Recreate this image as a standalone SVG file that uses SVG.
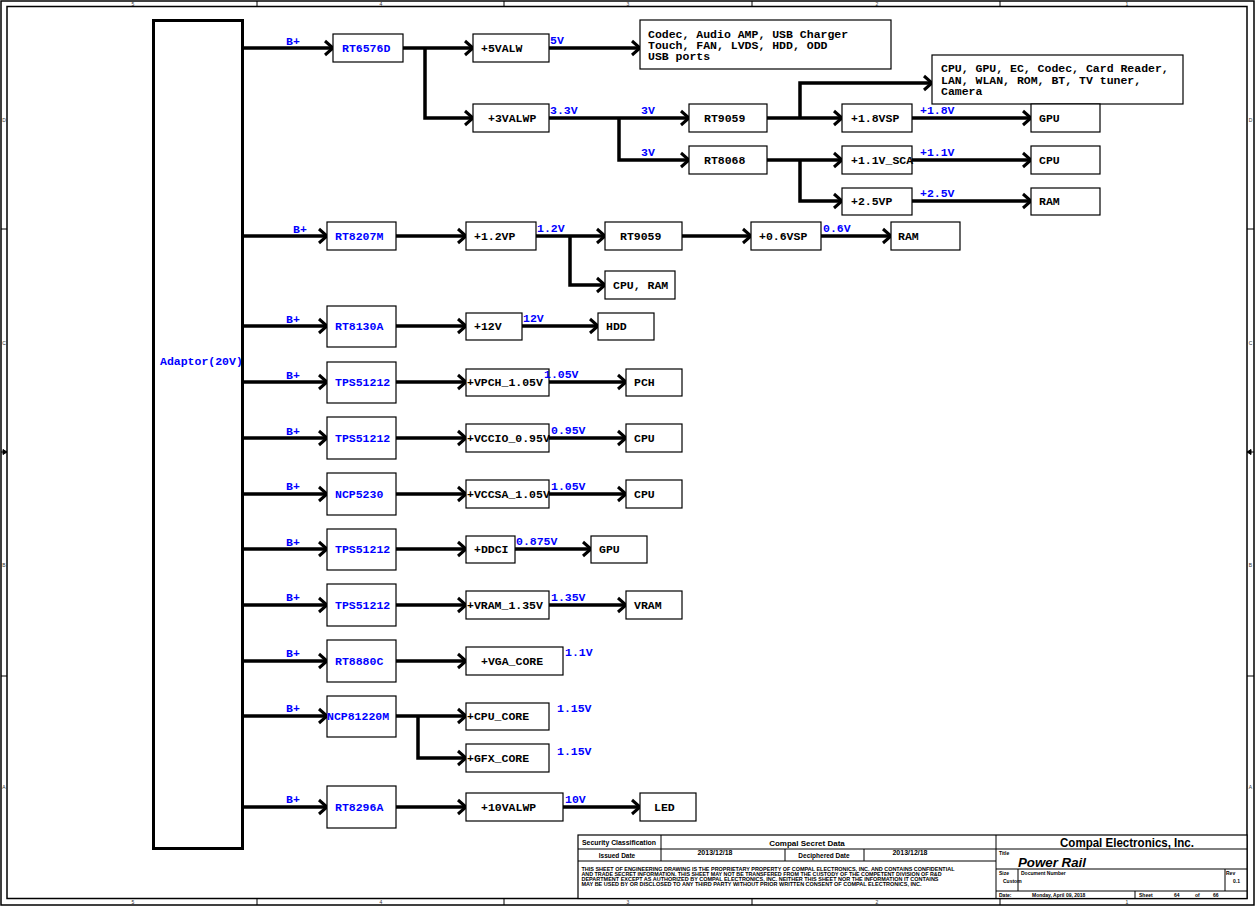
<svg xmlns="http://www.w3.org/2000/svg" width="1259" height="908" viewBox="0 0 1259 908">
<style>
.bx{fill:#fff;stroke:#000;stroke-width:1.2}
.w{stroke:#000;stroke-width:3.5;fill:none}
.wa{stroke:#000;stroke-width:3.5;fill:none;marker-end:url(#ah)}
.t{font-family:"Liberation Mono","Courier New",monospace;font-weight:bold;font-size:11.5px}
.b{fill:#0000ff}
.k{fill:#000}
.fr{fill:none;stroke:#000;stroke-width:1.5}
.tl{stroke:#000;stroke-width:1;fill:none}
.s{font-family:"Liberation Sans",Arial,sans-serif;font-weight:bold;fill:#000}
.z{font-family:"Liberation Sans",Arial,sans-serif;font-size:5px;fill:#333;text-anchor:middle}
</style>
<defs>
<marker id="ah" markerUnits="userSpaceOnUse" markerWidth="12" markerHeight="18" refX="9" refY="8" orient="auto" viewBox="0 0 12 16">
<path d="M1,1 L9,8 L1,15" fill="none" stroke="#000" stroke-width="3"/>
</marker>
</defs>
<rect width="1259" height="908" fill="#fff"/>
<g id="frame">
<rect class="fr" x="1" y="1" width="1253" height="904"/>
<rect class="fr" x="7" y="6.5" width="1240" height="892" stroke-width="2"/>
<path class="tl" d="M257,1V6.5M504,1V6.5M752,1V6.5M1000,1V6.5M257,899V905M504,899V905M752,899V905M1000,899V905M1,229H7M1,676H7M1247,229H1254M1247,676H1254"/>
<text class="z" x="133" y="5.5">5</text><text class="z" x="381" y="5.5">4</text><text class="z" x="628" y="5.5">3</text><text class="z" x="877" y="5.5">2</text><text class="z" x="1127" y="5.5">1</text>
<text class="z" x="133" y="904">5</text><text class="z" x="381" y="904">4</text><text class="z" x="628" y="904">3</text><text class="z" x="877" y="904">2</text><text class="z" x="1127" y="904">1</text>
<text class="z" x="4" y="122">D</text><text class="z" x="4" y="345">C</text><text class="z" x="4" y="567">B</text><text class="z" x="4" y="789">A</text>
<text class="z" x="1250.5" y="122">D</text><text class="z" x="1250.5" y="345">C</text><text class="z" x="1250.5" y="567">B</text><text class="z" x="1250.5" y="789">A</text>
<path d="M1,452H7M3,449.5L7,452L3,454.5Z" stroke="#000" stroke-width="1"/>
<path d="M1247,452H1254M1251,449.5L1247,452L1251,454.5Z" stroke="#000" stroke-width="1"/>
</g>
<g id="connectors">
<path class="wa" d="M243,48H333"/>
<path class="wa" d="M403,48H473"/>
<path class="wa" d="M425,48V118H473"/>
<path class="wa" d="M549,48H640"/>
<path class="wa" d="M549,118H689"/>
<path class="wa" d="M619,118V160H689"/>
<path class="wa" d="M767,118H842"/>
<path class="wa" d="M800,118V83H932"/>
<path class="wa" d="M912,118H1031"/>
<path class="wa" d="M767,160H842"/>
<path class="wa" d="M800,160V201H842"/>
<path class="wa" d="M912,160H1031"/>
<path class="wa" d="M912,201H1031"/>
<path class="wa" d="M243,236H327"/>
<path class="wa" d="M396,236H466"/>
<path class="wa" d="M536,236H605"/>
<path class="wa" d="M570,236V285H605"/>
<path class="wa" d="M682,236H751"/>
<path class="wa" d="M821,236H891"/>
<path class="wa" d="M243,326H327"/>
<path class="wa" d="M396,326H466"/>
<path class="wa" d="M522,326H598"/>
<path class="wa" d="M243,382H327"/>
<path class="wa" d="M396,382H466"/>
<path class="wa" d="M549,382H626"/>
<path class="wa" d="M243,438H327"/>
<path class="wa" d="M396,438H466"/>
<path class="wa" d="M549,438H626"/>
<path class="wa" d="M243,494H327"/>
<path class="wa" d="M396,494H466"/>
<path class="wa" d="M549,494H626"/>
<path class="wa" d="M243,549H327"/>
<path class="wa" d="M396,549H466"/>
<path class="wa" d="M515,549H591"/>
<path class="wa" d="M243,605H327"/>
<path class="wa" d="M396,605H466"/>
<path class="wa" d="M549,605H626"/>
<path class="wa" d="M243,661H327"/>
<path class="wa" d="M396,661H466"/>
<path class="wa" d="M243,716H327"/>
<path class="wa" d="M396,716H466"/>
<path class="wa" d="M418,716V758H466"/>
<path class="wa" d="M243,807H327"/>
<path class="wa" d="M396,807H466"/>
<path class="wa" d="M563,807H640"/>
</g>
<g id="adaptor"><rect x="153.5" y="20.5" width="89" height="828" fill="#fff" stroke="#000" stroke-width="3"/><text class="t b" x="160" y="365">Adaptor(20V)</text></g>
<g id="rt6576d"><rect class="bx" x="333" y="34" width="70" height="28"/><text class="t b" x="342" y="52">RT6576D</text></g>
<g id="p5valw"><rect class="bx" x="473" y="34" width="76" height="28"/><text class="t k" x="481" y="52">+5VALW</text></g>
<g id="p3valwp"><rect class="bx" x="473" y="104" width="76" height="28"/><text class="t k" x="488" y="122">+3VALWP</text></g>
<g id="codec"><rect class="bx" x="640" y="20" width="251" height="49"/><text class="t k" x="648" y="38">Codec, Audio AMP, USB Charger</text><text class="t k" x="648" y="49">Touch, FAN, LVDS, HDD, ODD</text><text class="t k" x="648" y="60">USB ports</text></g>
<g id="rt9059a"><rect class="bx" x="689" y="104" width="78" height="28"/><text class="t k" x="704" y="122">RT9059</text></g>
<g id="rt8068"><rect class="bx" x="689" y="146" width="78" height="28"/><text class="t k" x="704" y="164">RT8068</text></g>
<g id="cpugpu"><rect class="bx" x="932" y="55" width="251" height="49"/><text class="t k" x="941" y="72">CPU, GPU, EC, Codec, Card Reader,</text><text class="t k" x="941" y="83.5">LAN, WLAN, ROM, BT,  TV tuner,</text><text class="t k" x="941" y="95">Camera</text></g>
<g id="p18vsp"><rect class="bx" x="842" y="104" width="70" height="28"/><text class="t k" x="851" y="122">+1.8VSP</text></g>
<g id="p11vsca"><rect class="bx" x="842" y="146" width="70" height="28"/><text class="t k" x="851" y="164">+1.1V_SCA</text></g>
<g id="p25vp"><rect class="bx" x="842" y="188" width="70" height="27"/><text class="t k" x="851" y="205">+2.5VP</text></g>
<g id="gpu1"><rect class="bx" x="1031" y="104" width="69" height="28"/><text class="t k" x="1039" y="122">GPU</text></g>
<g id="cpu1"><rect class="bx" x="1031" y="146" width="69" height="28"/><text class="t k" x="1039" y="164">CPU</text></g>
<g id="ram1"><rect class="bx" x="1031" y="188" width="69" height="27"/><text class="t k" x="1039" y="205">RAM</text></g>
<g id="rt8207m"><rect class="bx" x="327" y="222" width="69" height="28"/><text class="t b" x="335" y="240">RT8207M</text></g>
<g id="p12vp"><rect class="bx" x="466" y="222" width="70" height="28"/><text class="t k" x="474" y="240">+1.2VP</text></g>
<g id="rt9059b"><rect class="bx" x="605" y="222" width="77" height="28"/><text class="t k" x="620" y="240">RT9059</text></g>
<g id="cpuram"><rect class="bx" x="605" y="271" width="70" height="28"/><text class="t k" x="613" y="289">CPU, RAM</text></g>
<g id="p06vsp"><rect class="bx" x="751" y="222" width="70" height="28"/><text class="t k" x="759" y="240">+0.6VSP</text></g>
<g id="ram2"><rect class="bx" x="891" y="222" width="69" height="28"/><text class="t k" x="898" y="240">RAM</text></g>
<g id="rt8130a"><rect class="bx" x="327" y="306" width="69" height="41"/><text class="t b" x="335" y="330">RT8130A</text></g>
<g id="p12v"><rect class="bx" x="466" y="313" width="56" height="27"/><text class="t k" x="474" y="330">+12V</text></g>
<g id="hdd"><rect class="bx" x="598" y="313" width="56" height="27"/><text class="t k" x="606" y="330">HDD</text></g>
<g id="tps1"><rect class="bx" x="327" y="362" width="69" height="41"/><text class="t b" x="335" y="386">TPS51212</text></g>
<g id="vpch"><rect class="bx" x="466" y="369" width="83" height="27"/><text class="t k" x="467" y="386">+VPCH_1.05V</text></g>
<g id="pch"><rect class="bx" x="626" y="369" width="56" height="27"/><text class="t k" x="634" y="386">PCH</text></g>
<g id="tps2"><rect class="bx" x="327" y="417" width="69" height="42"/><text class="t b" x="335" y="442">TPS51212</text></g>
<g id="vccio"><rect class="bx" x="466" y="424" width="83" height="28"/><text class="t k" x="467" y="442">+VCCIO_0.95V</text></g>
<g id="cpu2"><rect class="bx" x="626" y="424" width="56" height="28"/><text class="t k" x="634" y="442">CPU</text></g>
<g id="ncp5230"><rect class="bx" x="327" y="473" width="69" height="42"/><text class="t b" x="335" y="498">NCP5230</text></g>
<g id="vccsa"><rect class="bx" x="466" y="480" width="83" height="28"/><text class="t k" x="467" y="498">+VCCSA_1.05V</text></g>
<g id="cpu3"><rect class="bx" x="626" y="480" width="56" height="28"/><text class="t k" x="634" y="498">CPU</text></g>
<g id="tps3"><rect class="bx" x="327" y="529" width="69" height="41"/><text class="t b" x="335" y="553">TPS51212</text></g>
<g id="ddci"><rect class="bx" x="466" y="536" width="49" height="27"/><text class="t k" x="474" y="553">+DDCI</text></g>
<g id="gpu2"><rect class="bx" x="591" y="536" width="56" height="27"/><text class="t k" x="599" y="553">GPU</text></g>
<g id="tps4"><rect class="bx" x="327" y="584" width="69" height="42"/><text class="t b" x="335" y="609">TPS51212</text></g>
<g id="vram135"><rect class="bx" x="466" y="591" width="83" height="28"/><text class="t k" x="467" y="609">+VRAM_1.35V</text></g>
<g id="vram"><rect class="bx" x="626" y="591" width="56" height="28"/><text class="t k" x="634" y="609">VRAM</text></g>
<g id="rt8880c"><rect class="bx" x="327" y="640" width="69" height="42"/><text class="t b" x="335" y="665">RT8880C</text></g>
<g id="vgacore"><rect class="bx" x="466" y="647" width="97" height="28"/><text class="t k" x="481" y="665">+VGA_CORE</text></g>
<g id="ncp81220m"><rect class="bx" x="327" y="696" width="69" height="41"/><text class="t b" x="327" y="720">NCP81220M</text></g>
<g id="cpucore"><rect class="bx" x="466" y="703" width="83" height="27"/><text class="t k" x="467" y="720">+CPU_CORE</text></g>
<g id="gfxcore"><rect class="bx" x="466" y="744" width="83" height="28"/><text class="t k" x="467" y="762">+GFX_CORE</text></g>
<g id="rt8296a"><rect class="bx" x="327" y="786" width="69" height="42"/><text class="t b" x="335" y="811">RT8296A</text></g>
<g id="p10valwp"><rect class="bx" x="466" y="793" width="97" height="28"/><text class="t k" x="481" y="811">+10VALWP</text></g>
<g id="led"><rect class="bx" x="640" y="793" width="56" height="28"/><text class="t k" x="654" y="811">LED</text></g>
<g id="labels" class="t b">
<text x="286" y="45">B+</text>
<text x="293" y="233">B+</text>
<text x="286" y="323">B+</text>
<text x="286" y="379">B+</text>
<text x="286" y="435">B+</text>
<text x="286" y="490">B+</text>
<text x="286" y="546">B+</text>
<text x="286" y="601">B+</text>
<text x="286" y="657">B+</text>
<text x="286" y="712">B+</text>
<text x="286" y="803">B+</text>
<text x="550" y="44">5V</text>
<text x="550" y="114">3.3V</text>
<text x="641" y="114">3V</text>
<text x="641" y="156">3V</text>
<text x="920" y="114">+1.8V</text>
<text x="920" y="156">+1.1V</text>
<text x="920" y="197">+2.5V</text>
<text x="537" y="232">1.2V</text>
<text x="823" y="232">0.6V</text>
<text x="523" y="322">12V</text>
<text x="544" y="378">1.05V</text>
<text x="551" y="434">0.95V</text>
<text x="551" y="490">1.05V</text>
<text x="516" y="545">0.875V</text>
<text x="551" y="601">1.35V</text>
<text x="565" y="656">1.1V</text>
<text x="557" y="712">1.15V</text>
<text x="557" y="755">1.15V</text>
<text x="565" y="803">10V</text>
</g>
<g id="titleblock">
<rect x="578" y="835" width="669" height="63.5" fill="#fff" stroke="#000" stroke-width="1.2"/>
<path class="tl" d="M996,835V898.5M578,849H1247M578,861H996M661,835V861M785,849V861M864,849V861M996,869H1247M1018,869V891M1225,869V891M996,891H1247M1135,891V898.5"/>
<text class="s" x="619" y="845" font-size="6.5" text-anchor="middle" textLength="74" lengthAdjust="spacingAndGlyphs">Security Classification</text>
<text class="s" x="807" y="845.5" font-size="8" text-anchor="middle">Compal Secret Data</text>
<text class="s" x="617" y="857.5" font-size="6.5" text-anchor="middle">Issued Date</text>
<text class="s" x="715" y="855" font-size="7" text-anchor="middle">2013/12/18</text>
<text class="s" x="824" y="858" font-size="6.5" text-anchor="middle">Deciphered Date</text>
<text class="s" x="910" y="855" font-size="7" text-anchor="middle">2013/12/18</text>
<g font-size="5">
<text class="s" x="581.5" y="871" textLength="373" lengthAdjust="spacingAndGlyphs">THIS SHEET OF ENGINEERING DRAWING IS THE PROPRIETARY PROPERTY OF COMPAL ELECTRONICS, INC. AND CONTAINS CONFIDENTIAL</text>
<text class="s" x="581.5" y="876" textLength="360" lengthAdjust="spacingAndGlyphs">AND TRADE SECRET INFORMATION. THIS SHEET MAY NOT BE TRANSFERED FROM THE CUSTODY OF THE COMPETENT DIVISION OF R&amp;D</text>
<text class="s" x="581.5" y="881" textLength="357" lengthAdjust="spacingAndGlyphs">DEPARTMENT EXCEPT AS AUTHORIZED BY COMPAL ELECTRONICS, INC. NEITHER THIS SHEET NOR THE INFORMATION IT CONTAINS</text>
<text class="s" x="581.5" y="886" textLength="340" lengthAdjust="spacingAndGlyphs">MAY BE USED BY OR DISCLOSED TO ANY THIRD PARTY WITHOUT PRIOR WRITTEN CONSENT OF COMPAL ELECTRONICS, INC.</text>
</g>
<text class="s" x="1127" y="846.5" font-size="12" text-anchor="middle" textLength="134" lengthAdjust="spacingAndGlyphs">Compal Electronics, Inc.</text>
<text class="s" x="999" y="855" font-size="5">Title</text>
<text class="s" x="1018" y="867" font-size="13.3" font-style="italic">Power Rail</text>
<text class="s" x="999" y="875" font-size="5">Size</text>
<text class="s" x="1021" y="875" font-size="5">Document  Number</text>
<text class="s" x="1226" y="875" font-size="5">Rev</text>
<text class="s" x="1003" y="882.5" font-size="5">Custom</text>
<text class="s" x="1233" y="882.5" font-size="5">0.1</text>
<text class="s" x="999" y="896.5" font-size="5">Date:</text>
<text class="s" x="1032" y="896.5" font-size="5">Monday, April 09, 2018</text>
<text class="s" x="1139" y="896.5" font-size="5">Sheet</text>
<text class="s" x="1174" y="896.5" font-size="5">64</text>
<text class="s" x="1195" y="896.5" font-size="5">of</text>
<text class="s" x="1213" y="896.5" font-size="5">66</text>
</g>
</svg>
